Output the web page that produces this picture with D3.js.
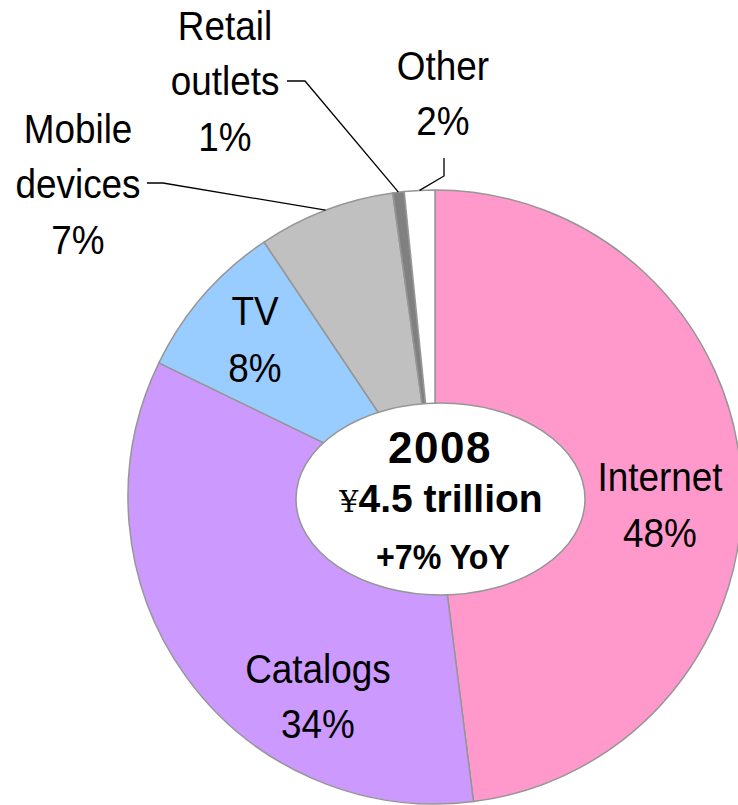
<!DOCTYPE html>
<html>
<head>
<meta charset="utf-8">
<script src="https://cdn.jsdelivr.net/npm/d3@7"></script>
<style>
  html, body { margin: 0; padding: 0; background: #fff; }
  svg { display: block; }
  text { font-family: "Liberation Sans", Arial, sans-serif; fill: #000; }
</style>
</head>
<body>
<svg id="chart" width="738" height="805"></svg>
<script>
var categories = ['Internet', 'Catalogs', 'TV', 'Mobile devices', 'Retail outlets', 'Other'];
var shares = [48.0, 34.2, 8.4, 7.2, 0.6, 1.6];
var shareLabels = ['48%', '34%', '8%', '7%', '1%', '2%'];
var centerLines = ['2008', '¥4.5 trillion', '+7% YoY'];

var colors = ['#ff99cc', '#cc99ff', '#99ccff', '#c0c0c0', '#808080', '#ffffff'];

// layout
var cx = 435, cy = 497, radius = 307;
// label position: x centre, first baseline, line step
var labelPos = [
  [660, 491, 56],
  [318, 683, 55],
  [255, 325, 57],
  [78, 143, 55.5],
  [225, 40, 55.5],
  [443, 80, 55]
];
// leader lines for outside labels: start point and elbow
var leaders = {
  3: [[147, 183], [163, 183]],
  4: [[287, 81], [305, 81]],
  5: [[444, 158], [444, 176]]
};

var svg = d3.select('#chart');

var pie = d3.pie().sort(null).value(function (d) { return d; });
var arcs = pie(shares);

var arc = d3.arc().innerRadius(0).outerRadius(radius);
var edge = d3.arc().innerRadius(radius).outerRadius(radius);

var g = svg.append('g').attr('transform', 'translate(' + cx + ',' + cy + ')');

g.selectAll('path.slice')
  .data(arcs)
  .enter()
  .append('path')
  .attr('class', 'slice')
  .attr('d', arc)
  .style('fill', function (d, i) { return colors[i]; })
  .style('stroke', '#969696')
  .style('stroke-width', 1.5)
  .style('stroke-linejoin', 'round');

// leader lines
Object.keys(leaders).forEach(function (k) {
  var i = +k;
  var c = edge.centroid(arcs[i]);
  var pts = leaders[k].concat([[c[0] + cx, c[1] + cy]]);
  svg.append('path')
    .attr('d', d3.line()(pts))
    .style('fill', 'none')
    .style('stroke', '#000')
    .style('stroke-width', 1.3);
});

// slice labels (squeezed a little to mimic the condensed face)
categories.forEach(function (name, i) {
  var lines = (i === 3 || i === 4) ? name.split(' ') : [name];
  lines = lines.concat([shareLabels[i]]);
  var p = labelPos[i];
  var t = svg.append('text')
    .attr('text-anchor', 'middle')
    .attr('transform', 'translate(' + p[0] + ',0) scale(0.9,1)')
    .style('font-size', '41px');
  lines.forEach(function (s, j) {
    t.append('tspan')
      .attr('x', 0)
      .attr('y', p[1] + j * p[2])
      .text(s);
  });
});

// centre ellipse
svg.append('ellipse')
  .attr('cx', 440.5)
  .attr('cy', 499)
  .attr('rx', 144.5)
  .attr('ry', 96)
  .style('fill', '#fff')
  .style('stroke', '#969696')
  .style('stroke-width', 1.5);

var ct = svg.append('text')
  .attr('text-anchor', 'middle')
  .style('font-weight', 'bold');

ct.append('tspan')
  .attr('x', 440).attr('y', 463)
  .style('font-size', '44px')
  .style('letter-spacing', '1.5px')
  .text(centerLines[0]);

var yen = ct.append('tspan')
  .attr('x', 441).attr('y', 512)
  .style('font-size', '39px');
yen.append('tspan')
  .style('font-family', '"DejaVu Serif", serif')
  .style('font-weight', 'normal')
  .style('font-size', '30px')
  .text(centerLines[1].slice(0, 1));
yen.append('tspan')
  .text(centerLines[1].slice(1));

svg.append('text')
  .attr('text-anchor', 'middle')
  .attr('transform', 'translate(443,0) scale(0.92,1)')
  .style('font-weight', 'bold')
  .style('font-size', '35px')
  .append('tspan')
  .attr('x', 0).attr('y', 569)
  .text(centerLines[2]);
</script>
</body>
</html>
